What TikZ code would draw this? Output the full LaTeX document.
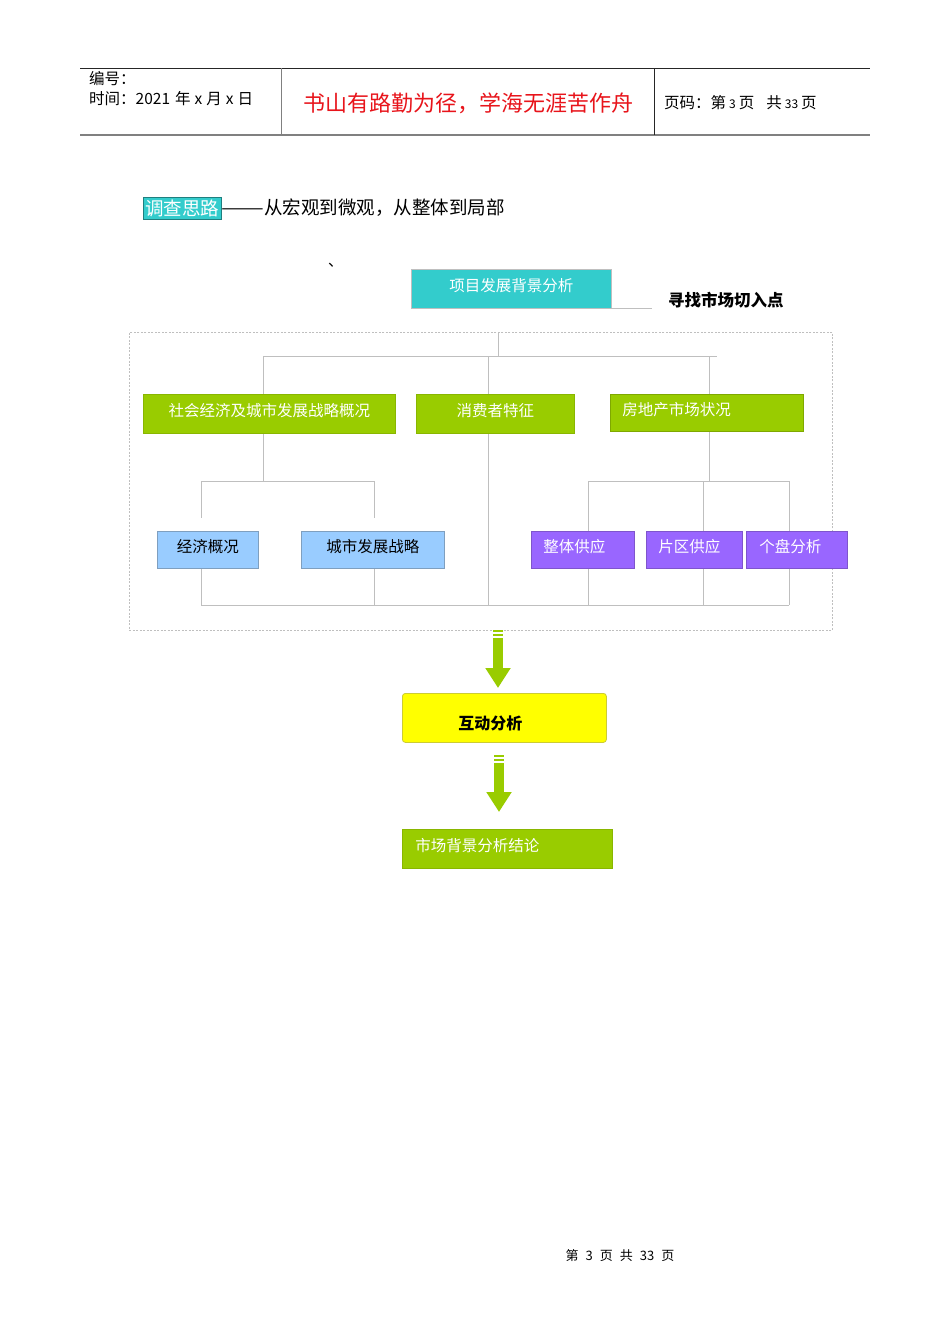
\documentclass[tikz,border=0pt]{standalone}
\usepackage{fontspec}
\setmainfont{Noto Sans CJK SC}
\usepackage{tikz}
\usetikzlibrary{arrows.meta,positioning,calc}
\definecolor{leaf}{HTML}{99CC00}
\definecolor{leafdark}{HTML}{7FA800}
\definecolor{teal}{HTML}{33CCCC}
\definecolor{tealdark}{HTML}{1F7F7F}
\definecolor{sky}{HTML}{99CCFF}
\definecolor{skydark}{HTML}{7F9FBF}
\definecolor{violet}{HTML}{9966FF}
\definecolor{violetdark}{HTML}{7F55CC}
\definecolor{lemon}{HTML}{FFFF00}
\definecolor{lemondark}{HTML}{CCCC33}
\definecolor{linegrey}{HTML}{BFBFBF}
\definecolor{rulegrey}{HTML}{808080}
\definecolor{mottored}{HTML}{E8141B}
\newcommand\boxfont{\fontsize{15.5pt}{18pt}\selectfont}
\newcommand\hdrfont{\fontsize{15.5pt}{18pt}\selectfont}
\newcommand\smalldigit[1]{{\fontsize{12pt}{14pt}\selectfont#1}}

\begin{document}
\begin{tikzpicture}[x=1pt,y=-1pt,
  tree/.style={draw=linegrey,line width=0.8pt},
  framebox/.style={draw=linegrey,dash pattern=on 2pt off 1.5pt,line width=0.7pt,
                   anchor=north west,minimum width=703pt,minimum height=298pt,inner sep=0pt},
  plainbox/.style={anchor=north west,inner sep=0pt,font=\boxfont,line width=0.8pt,
                   text height=11pt,text depth=5pt},
  greenbox/.style={plainbox,draw=leafdark!60!leaf,fill=leaf,text=white,minimum height=39pt},
  tealbox/.style={plainbox,draw=linegrey,fill=teal,text=white,minimum height=39pt},
  bluebox/.style={plainbox,draw=skydark,fill=sky,text=black,minimum height=37pt},
  purplebox/.style={plainbox,draw=violetdark,fill=violet,text=white,minimum height=37pt,align=left},
  yellowbox/.style={plainbox,draw=lemondark,fill=lemon,rounded corners=3pt,minimum height=49pt,
                    text height=24pt,text depth=0pt,
                    font=\fontsize{16pt}{19pt}\selectfont\bfseries},
  hdr/.style={anchor=west,inner sep=0pt,font=\hdrfont},
  stripe/.style={draw=leaf,line width=2pt},
  blockarrow/.style={draw=leaf,line width=10pt,
                     -{Triangle[length=20pt 0 0,width=24pt 0 0,fill=leaf]}}
]
\fill[white] (0,0) rectangle (950,1344);
\useasboundingbox (0,0) rectangle (950,1344);

% page header
\draw[black!85,line width=0.8pt] (80,68) -- (870,68);
\draw[rulegrey,line width=1.6pt] (80,135) -- (870,135);
\draw[rulegrey,line width=1pt] (281,68) -- (281,135);
\draw[black!85,line width=0.8pt] (654,68) -- (654,135);
\node[hdr] (num) at (89,79) {编号：};
\node[hdr] (date) at (89,99) {时间：2021\hspace{5pt}年\hspace{4pt}x\hspace{4pt}月\hspace{4pt}x\hspace{4pt}日};
\node[font=\fontsize{22pt}{25pt}\selectfont,text=mottored,inner sep=0pt] (motto) at (468,103) {书山有路勤为径，学海无涯苦作舟};
\node[hdr] (page) at (664,103) {页码：第\hspace{3pt}\smalldigit{3}\hspace{3pt}页\hspace{12pt}共\hspace{3pt}\smalldigit{33}\hspace{3pt}页};

% heading
\node[draw=tealdark,fill=teal,text=white,inner sep=1pt,minimum width=78pt,minimum height=22pt,
      font=\fontsize{18.5pt}{21pt}\selectfont] (tag) at (182,208) {调查思路};
\node[anchor=west,inner sep=0pt,font=\fontsize{18.5pt}{21pt}\selectfont] (theme) at (tag.east) {\scalebox{1.38}[1]{——}从宏观到微观，从整体到局部};
\node[anchor=base west,inner sep=0pt,font=\fontsize{15pt}{18pt}\selectfont] (tick) at (328,266) {、};

% top node
\node[tealbox,minimum width=200pt] (project) at (411,269) {项目发展背景分析};
\node[anchor=west,inner sep=0pt,font=\fontsize{16.5pt}{19pt}\selectfont\bfseries] (cut) at (668,300) {寻找市场切入点};
\draw[tree] (project.south east) -- ([xshift=-16pt]cut.west |- project.south east);

% dashed frame
\node[framebox] (frame) at (129,332) {};

% first level
\node[greenbox,minimum width=252pt] (socio) at (143,394) {社会经济及城市发展战略概况};
\node[greenbox,minimum width=158pt] (consumer) at (416,394) {消费者特征};
\node[greenbox,draw=leafdark,minimum height=37pt,text width=169pt,inner xsep=12pt,align=left] (estate) at (610,394) {房地产市场状况};

% second level
\node[bluebox,minimum width=101pt] (econ) at (157,531) {经济概况};
\node[bluebox,minimum width=143pt] (strategy) at (301,531) {城市发展战略};
\node[purplebox,text width=79pt,inner xsep=12pt] (whole) at (531,531) {整体供应};
\node[purplebox,text width=72pt,inner xsep=12pt] (district) at (646,531) {片区供应};
\node[purplebox,text width=75pt,inner xsep=13pt] (single) at (746,531) {个盘分析};

% tree lines
\coordinate (busA) at (498,356);
\coordinate (forkL) at (263,356);
\coordinate (forkR) at (717,356);
\coordinate (colM) at (488,356);
\coordinate (colR) at (709,356);
\draw[tree] (frame.north -| busA) -- (busA);
\draw[tree] (forkL) -- (forkR);
\draw[tree] (forkL) -- (forkL |- socio.north);
\draw[tree] (colM) -- (colM |- consumer.north);
\draw[tree] (colR) -- (colR |- estate.north);

\coordinate (busL) at (263,481);
\coordinate (busLl) at (201,481);
\coordinate (busLr) at (374,481);
\draw[tree] (forkL |- socio.south) -- (busL);
\draw[tree] (busLl) -- (busLr);
\draw[tree] (busLl) -- ([yshift=13pt]busLl |- econ.north);
\draw[tree] (busLr) -- ([yshift=13pt]busLr |- strategy.north);

\coordinate (busR) at (709,481);
\coordinate (busRl) at (588,481);
\coordinate (busRm) at (703,481);
\coordinate (busRr) at (789,481);
\draw[tree] (colR |- estate.south) -- (busR);
\draw[tree] (busRl) -- (busRr);
\draw[tree] (busRl) -- (busRl |- whole.north);
\draw[tree] (busRm) -- (busRm |- district.north);
\draw[tree] (busRr) -- (busRr |- single.north);

\coordinate (baseL) at (201,605);
\coordinate (baseR) at (789,605);
\draw[tree] (baseL) -- (baseR);
\draw[tree] (busLl |- econ.south) -- (baseL);
\draw[tree] (busLr |- strategy.south) -- (busLr |- baseL);
\draw[tree] (colM |- consumer.south) -- (colM |- baseL);
\draw[tree] (busRl |- whole.south) -- (busRl |- baseL);
\draw[tree] (busRm |- district.south) -- (busRm |- baseL);
\draw[tree] (busRr |- single.south) -- (baseR);

% lower chain
\node[yellowbox,text width=92pt,inner xsep=56pt,align=left] (interact) at (402,693) {互动分析};
\node[greenbox,text width=184pt,inner xsep=13pt,align=left] (result) at (402,829) {市场背景分析结论};

\coordinate (arrA) at (498,638);
\draw[stripe] ([xshift=-5pt,yshift=7pt]arrA) -- ++(10,0);
\draw[stripe] ([xshift=-5pt,yshift=3pt]arrA) -- ++(10,0);
\draw[blockarrow,shorten >=5pt] (arrA) -- (arrA |- interact.north);

\coordinate (arrB) at (499,763);
\draw[stripe] ([xshift=-5pt,yshift=7pt]arrB) -- ++(10,0);
\draw[stripe] ([xshift=-5pt,yshift=3pt]arrB) -- ++(10,0);
\draw[blockarrow,shorten >=17pt] (arrB) -- (arrB |- result.north);

% footer
\node[inner sep=0pt,font=\fontsize{13pt}{15pt}\selectfont] (footer) at (620,1256) {第\hspace{7pt}3\hspace{7pt}页\hspace{7pt}共\hspace{7pt}33\hspace{7pt}页};
\end{tikzpicture}
\end{document}
